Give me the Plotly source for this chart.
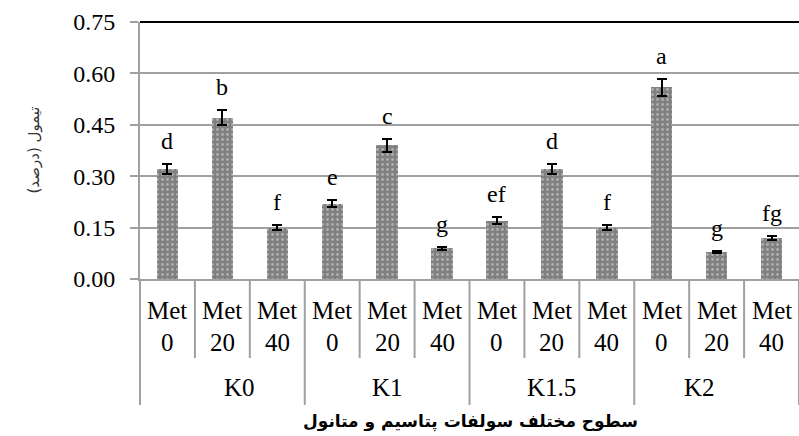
import plotly.graph_objects as go

groups = ["K0", "K1", "K1.5", "K2"]
met_levels = ["0", "20", "40"]
values = [0.32, 0.47, 0.15, 0.22, 0.39, 0.09, 0.17, 0.32, 0.15, 0.56, 0.08, 0.12]
errors = [0.015, 0.022, 0.008, 0.010, 0.020, 0.004, 0.010, 0.015, 0.008, 0.025, 0.003, 0.006]
letters = ["d", "b", "f", "e", "c", "g", "ef", "d", "f", "a", "g", "fg"]
y_ticks = [0.0, 0.15, 0.30, 0.45, 0.60, 0.75]
y_title = "تیمول (درصد)"
x_title = "سطوح مختلف سولفات پتاسیم و متانول"

cats = [f"{g} Met {m}" for g in groups for m in met_levels]
n = len(cats)

W, H = 799, 436
ml, mr, mt, mb = 140, 0, 22, 157
ph = H - mt - mb

def py(px):
    # pixel y (from top) -> paper y
    return (H - mb - px) / ph

serif = "Times New Roman, Liberation Serif, DejaVu Serif, serif"
grid = "#a0a0a0"

fig = go.Figure()
fig.add_trace(go.Bar(
    x=cats, y=values, width=0.39,
    marker=dict(color="#808080", line=dict(width=0),
                pattern=dict(shape=".", fgcolor="#e0e0e0", bgcolor="#808080", size=5, solidity=0.25)),
    error_y=dict(type="data", array=errors, visible=True, color="black", thickness=2, width=5),
))

ann = []
for c, v, e, t in zip(cats, values, errors, letters):
    ann.append(dict(x=c, y=v + e, xref="x", yref="y", text=t, showarrow=False,
                    yanchor="bottom", yshift=8, font=dict(family=serif, size=24, color="black")))
for i, c in enumerate(cats):
    m = met_levels[i % 3]
    ann.append(dict(x=c, y=py(310), xref="x", yref="paper", text="Met", showarrow=False,
                    yanchor="middle", font=dict(family=serif, size=25, color="black")))
    ann.append(dict(x=c, y=py(342), xref="x", yref="paper", text=m, showarrow=False,
                    yanchor="middle", font=dict(family=serif, size=25, color="black")))
for gi, g in enumerate(groups):
    ann.append(dict(x=(gi * 3 + 1.5) / n, y=py(387), xref="paper", yref="paper", text=g, showarrow=False,
                    yanchor="middle", font=dict(family=serif, size=25, color="black")))
ann.append(dict(x=(22 - ml) / (W - ml - mr), y=0.5, xref="paper", yref="paper", text=y_title,
                showarrow=False, textangle=-90, font=dict(family="DejaVu Sans", size=15, color="#333333")))
ann.append(dict(x=(470 - ml) / (W - ml - mr), y=py(421), xref="paper", yref="paper",
                text="<b>" + x_title + "</b>", showarrow=False, yanchor="middle",
                font=dict(family="DejaVu Sans", size=17, color="black")))

shapes = []
for k in range(n + 1):
    bottom = py(405) if k % 3 == 0 else py(358)
    shapes.append(dict(type="line", xref="paper", yref="paper", x0=k / n, x1=k / n, y0=0, y1=bottom,
                       line=dict(color=grid, width=2)))
shapes.append(dict(type="line", xref="paper", yref="paper", x0=0, x1=1, y0=1, y1=1,
                   line=dict(color="black", width=2)))

fig.update_layout(
    width=W, height=H, margin=dict(l=ml, r=mr, t=mt, b=mb),
    paper_bgcolor="white", plot_bgcolor="white", showlegend=False,
    font=dict(family=serif),
    annotations=ann, shapes=shapes, bargap=0,
    xaxis=dict(type="category", range=[-0.5, n - 0.5], showticklabels=False, showgrid=False,
               showline=True, linecolor=grid, linewidth=2, ticks="", zeroline=False),
    yaxis=dict(range=[0, 0.75], tickvals=y_ticks, ticktext=[f"{v:.2f}" for v in y_ticks],
               showgrid=True, gridcolor=grid, gridwidth=2, showline=True, linecolor=grid, linewidth=2,
               ticks="outside", ticklen=8, tickcolor=grid, tickwidth=2, zeroline=False,
               tickfont=dict(family=serif, size=24, color="black"), ticklabelstandoff=10),
)
fig.write_html("out.html", config={"displayModeBar": False},
               post_script="document.body.style.margin='0';document.body.style.overflow='hidden';")
